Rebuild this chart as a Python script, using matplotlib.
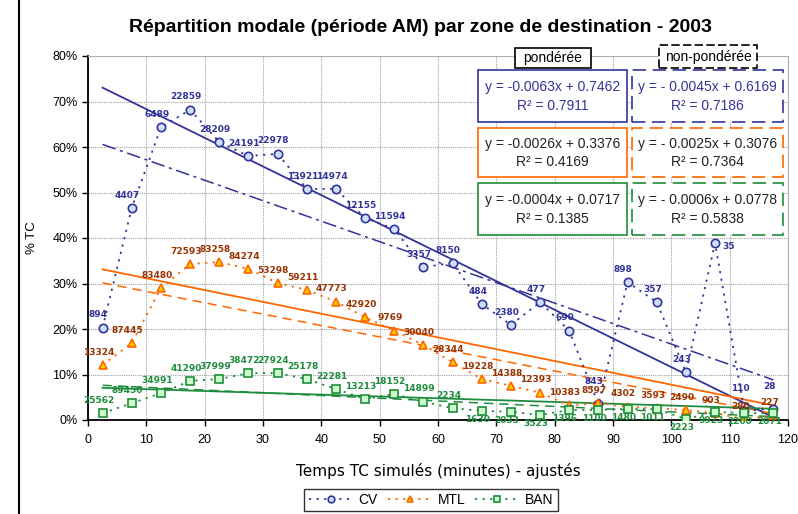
import matplotlib
matplotlib.use("Agg")
import matplotlib.pyplot as plt
from matplotlib.patches import Rectangle
from matplotlib.lines import Line2D
import numpy as np

plt.rcParams['font.family'] = ['Liberation Sans', 'DejaVu Sans']

# temps TC (milieu des classes de 5 minutes)
temps = [2.5, 7.5, 12.5, 17.5, 22.5, 27.5, 32.5, 37.5, 42.5, 47.5, 52.5, 57.5,
         62.5, 67.5, 72.5, 77.5, 82.5, 87.5, 92.5, 97.5, 102.5, 107.5, 112.5, 117.5]

cv = [20.3, 46.6, 64.3, 68.2, 61.1, 58.0, 58.5, 50.8, 50.8, 44.4, 42.0, 33.6,
      34.5, 25.5, 20.9, 25.9, 19.6, 3.5, 30.3, 25.9, 10.5, 38.9, 2.0, 2.5]
mtl = [12.1, 16.9, 29.0, 34.3, 34.7, 33.2, 30.1, 28.6, 26.0, 22.6, 19.6, 16.5,
       12.7, 9.0, 7.5, 6.0, 3.2, 3.7, 2.9, 2.6, 2.2, 1.5, 0.2, 1.0]
ban = [1.5, 3.7, 5.9, 8.6, 9.0, 10.3, 10.3, 9.0, 6.8, 4.6, 5.7, 4.0,
       2.6, 2.0, 1.8, 1.1, 2.2, 2.2, 2.4, 2.4, 0.2, 1.8, 1.5, 1.5]

cv_n = ["894", "4407", "6489", "22859", "28209", "24191", "22978", "13921",
        "14974", "12155", "11594", "3357", "8150", "484", "2380", "477",
        "690", "843", "898", "357", "243", "35", "110", "28"]
mtl_n = ["13324", "87445", "83480", "72593", "83258", "84274", "53298", "59211",
         "47773", "42920", "9769", "30040", "28344", "19228", "14388", "12393",
         "10383", "8597", "4302", "3593", "2490", "903", "280", "227"]
ban_n = ["25562", "89450", "34991", "41290", "37999", "38472", "27924", "25178",
         "22281", "13213", "18152", "14899", "2234", "1630", "2033", "3523",
         "1396", "1100", "1480", "1011", "2223", "9923", "2200", "2071"]

# droites de tendance : pente, ordonnee, R2
pond_a = [-0.0063, -0.0026, -0.0004]
pond_b = [0.7462, 0.3376, 0.0717]
pond_r2 = [0.7911, 0.4169, 0.1385]
nonp_a = [-0.0045, -0.0025, -0.0006]
nonp_b = [0.6169, 0.3076, 0.0778]
nonp_r2 = [0.7186, 0.7364, 0.5838]

noms = ["CV", "MTL", "BAN"]
couleurs = ["#333399", "#FF6600", "#1E8C3C"]
marqueurs = ["o", "^", "s"]
faces = ["#CCE0FF", "#FFCC00", "#CCFFCC"]
couleurs_txt = ["#333399", "#993300", "#1E8C3C"]
couleurs_eq = ["#333399", "#222222", "#222222"]

W, H = 798, 514
fig = plt.figure(figsize=(W / 100, H / 100), dpi=100)
ax = fig.add_axes([88 / W, 1 - 420 / H, 700 / W, 364 / H])

def fx(x):
    return x / W

def fy(y):
    return 1 - y / H

series = [cv, mtl, ban]
etiquettes = [cv_n, mtl_n, ban_n]
handles = []
for i in range(3):
    h, = ax.plot(temps, series[i], linestyle=(0, (1.2, 3)), lw=1.3, color=couleurs[i],
                 marker=marqueurs[i], ms=6, mfc=faces[i], mec=couleurs[i], mew=1.2,
                 label=noms[i], zorder=4)
    handles.append(h)
    for j, (x, y) in enumerate(zip(temps, series[i])):
        dx, dy, ha, va = -3, 6, "center", "bottom"
        if i == 2 and x > 65:
            dy, va = -3, "top"   # etiquettes BAN sous les points en fin de courbe
        if i == 0 and y > 35 and x > 100:
            dx, dy, ha = 5, -6, "left"
        if i == 0 and y < 5:
            dy = 13
        ax.annotate(etiquettes[i][j], (x, y), xytext=(dx, dy),
                    textcoords="offset points", ha=ha, va=va,
                    fontsize=6.5, fontweight="bold", family="DejaVu Sans",
                    color=couleurs_txt[i], zorder=5, annotation_clip=False)

# tendances ponderees (plein) et non ponderees (tirets)
xt = np.array([temps[0], temps[-1]])
for i in range(3):
    ax.plot(xt, 100 * (pond_a[i] * xt + pond_b[i]), color=couleurs[i], lw=1.3, zorder=3)
    ls = (0, (9, 3, 2, 3)) if i == 0 else (0, (6, 4))
    ax.plot(xt, 100 * (nonp_a[i] * xt + nonp_b[i]), color=couleurs[i], lw=1.1,
            linestyle=ls, zorder=3)

ax.set_xlim(0, 120)
ax.set_ylim(0, 80)
ax.set_xticks(range(0, 121, 10))
ax.set_yticks(range(0, 81, 10))
ax.set_yticklabels([f"{v}%" for v in range(0, 81, 10)])
ax.tick_params(labelsize=9, length=4, direction="out", width=1)
ax.tick_params(axis="x", pad=6)
ax.grid(True, color="#A0A0A0", linestyle=(0, (1, 1)), lw=0.8)
ax.set_axisbelow(True)
for s in ["top", "right"]:
    ax.spines[s].set_color("#B0B0B0")
for s in ["left", "bottom"]:
    ax.spines[s].set_linewidth(1.3)

ax.set_xlabel("Temps TC simulés (minutes) - ajustés", fontsize=11,
              family="DejaVu Sans", labelpad=12)
ax.set_ylabel("% TC", fontsize=9.5, labelpad=10)
fig.text(0.527, fy(27), "Répartition modale (période AM) par zone de destination - 2003",
         ha="center", va="center", fontsize=14, fontweight="bold")

# bordure de la zone graphique
fig.add_artist(Line2D([fx(19), fx(19)], [0, 1], color="black", lw=1.5,
                      transform=fig.transFigure))

leg = fig.legend(handles=handles, loc="center", bbox_to_anchor=(fx(431), fy(500)),
                 ncol=3, fontsize=10, frameon=True, fancybox=False,
                 edgecolor="black", handlelength=3.2, columnspacing=0.7,
                 handletextpad=0.4, borderpad=0.3, markerscale=0.8)
leg.get_frame().set_linewidth(1)

def boite(x0, y0, x1, y1, couleur, ls="-", lw=1.2):
    fig.add_artist(Rectangle((fx(x0), fy(y1)), fx(x1) - fx(x0), fy(y0) - fy(y1),
                             transform=fig.transFigure, fill=True, fc="white",
                             ec=couleur, lw=lw, linestyle=ls, zorder=6))

boite(515, 48, 591, 68, "black")
fig.text(fx(553), fy(58), "pondérée", ha="center", va="center", fontsize=10, zorder=7)
boite(659, 45, 757, 68, "black", ls=(0, (5, 2)))
fig.text(fx(708), fy(57), "non-pondérée", ha="center", va="center", fontsize=10, zorder=7)

rangs = [(70, 122), (128, 177), (183, 235)]
for i in range(3):
    y0, y1 = rangs[i]
    for (x0, x1, a, b, r2, ls, sep) in [
            (478, 627, pond_a[i], pond_b[i], pond_r2[i], "-", "-"),
            (632, 783, nonp_a[i], nonp_b[i], nonp_r2[i], (0, (8, 4)), "- ")]:
        boite(x0, y0, x1, y1, couleurs[i], ls=ls)
        sa = f"{sep}{abs(a):.4f}" if a < 0 else f"{a:.4f}"
        fig.text(fx((x0 + x1) / 2), fy(y0 + (y1 - y0) * 0.33),
                 f"y = {sa}x + {b:.4f}", ha="center", va="center",
                 fontsize=10, color=couleurs_eq[i], zorder=7)
        fig.text(fx((x0 + x1) / 2), fy(y0 + (y1 - y0) * 0.70),
                 f"R\u00b2 = {r2:.4f}", ha="center", va="center",
                 fontsize=10, color=couleurs_eq[i], zorder=7)

fig.savefig("out.png", dpi=100)
